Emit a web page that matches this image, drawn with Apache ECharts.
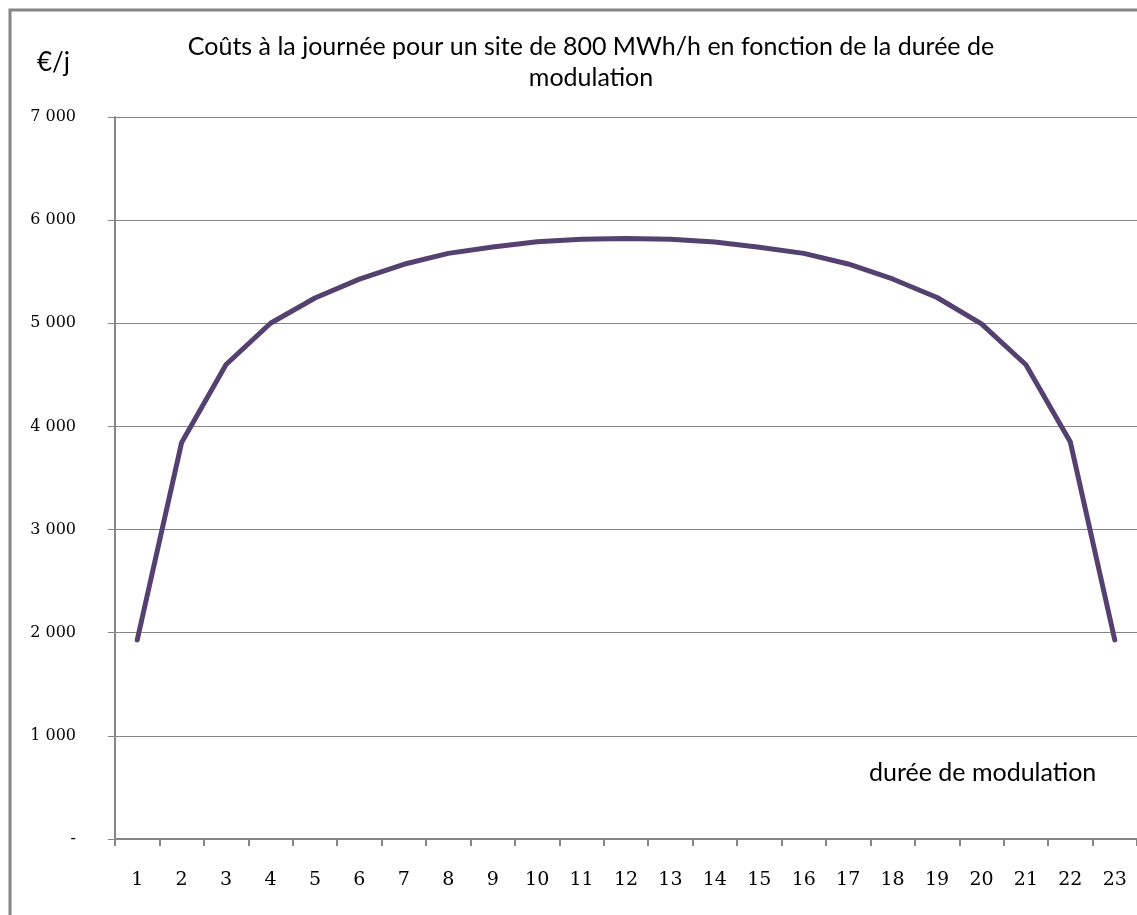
<!DOCTYPE html>
<html>
<head>
<meta charset="utf-8">
<script src="https://cdn.jsdelivr.net/npm/echarts@6/dist/echarts.min.js"></script>
<style>
html,body{margin:0;padding:0;background:#fff;}
#chart{width:1137px;height:915px;}
</style>
</head>
<body>
<div id="chart"></div>
<script>
const categories = ['1','2','3','4','5','6','7','8','9','10','11','12','13','14','15','16','17','18','19','20','21','22','23'];
const costs = [1930, 3845, 4600, 5000, 5245, 5428, 5572, 5678, 5740, 5790, 5815, 5822, 5815, 5788, 5738, 5678, 5575, 5430, 5250, 4995, 4598, 3848, 1930];
const yTicks = [0, 1000, 2000, 3000, 4000, 5000, 6000, 7000];
const titleText = 'Coûts à la journée pour un site de 800 MWh/h en fonction de la durée de\nmodulation';
const unitText = '€/j';
const xNameText = 'durée de modulation';

const grey = '#868686';
const chart = echarts.init(document.getElementById('chart'));
chart.setOption({
  animation: false,
  backgroundColor: '#fff',
  grid: { left: 115, top: 117, bottom: 76, right: -2, containLabel: false },
  graphic: [
    { type: 'rect', shape: { x: 10, y: 10, width: 1200, height: 1000 }, style: { fill: 'none', stroke: grey, lineWidth: 3 }, z: 100 },
    { type: 'text', x: 591, y: 62, style: { text: titleText, font: '25px Lato, sans-serif', fill: '#000', align: 'center', verticalAlign: 'middle', lineHeight: 31 } },
    { type: 'text', x: 37, y: 63, style: { text: unitText, font: '26px Lato, sans-serif', fill: '#000', align: 'left', verticalAlign: 'middle' } },
    { type: 'text', x: 869, y: 773, style: { text: xNameText, font: '25px Lato, sans-serif', fill: '#000', align: 'left', verticalAlign: 'middle' } }
  ],
  xAxis: {
    type: 'category',
    data: categories,
    boundaryGap: true,
    axisLine: { show: true, lineStyle: { color: grey, width: 2 } },
    axisTick: { show: true, length: 7, lineStyle: { color: grey, width: 2 } },
    axisLabel: { margin: 32, color: '#000', fontSize: 19, fontFamily: '"DejaVu Serif", serif', interval: 0 },
    splitLine: { show: false }
  },
  yAxis: {
    type: 'value',
    min: yTicks[0],
    max: yTicks[yTicks.length - 1],
    interval: 1000,
    axisLine: { show: true, lineStyle: { color: grey, width: 2 } },
    axisTick: { show: true, length: 7, inside: false, lineStyle: { color: grey, width: 1 } },
    axisLabel: {
      margin: 39, color: '#000', fontSize: 16, fontFamily: '"DejaVu Serif", serif',
      formatter: function (v) { return v === 0 ? '-' : String(v).replace(/\B(?=(\d{3})+(?!\d))/g, ' '); }
    },
    splitLine: { show: true, lineStyle: { color: grey, width: 1 } }
  },
  series: [{
    type: 'line',
    data: costs,
    symbol: 'none',
    smooth: false,
    lineStyle: { color: '#55416f', width: 5, cap: 'round', join: 'round' }
  }]
});
</script>
</body>
</html>
